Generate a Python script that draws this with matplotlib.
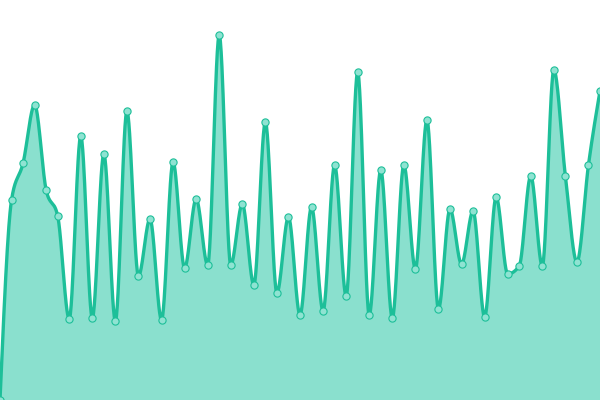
import numpy as np
import matplotlib
matplotlib.use("Agg")
import matplotlib.pyplot as plt

# pixel y positions (value = 400 - y)
y_px = [400, 200, 163, 105, 190, 216, 319, 136, 318, 154, 321, 111, 276, 219, 320, 162, 268, 199,
        265, 35, 265, 204, 285, 122, 293, 217, 315, 207, 311, 165, 296, 72, 315, 170, 318,
        165, 269, 120, 309, 209, 264, 211, 317, 197, 274, 266, 176, 266, 70, 176, 262, 165, 91]
values = [400 - v for v in y_px]
index = list(range(len(values)))

LINE = "#1dbf99"
FILL = "#8ae0ce"
MFACE = "#8fe3d2"


def monotone_x(x, y, n=30):
    x = np.asarray(x, float); y = np.asarray(y, float)
    h = np.diff(x); s = np.diff(y) / h
    t = np.zeros_like(y)
    for i in range(1, len(y) - 1):
        s0, s1 = s[i - 1], s[i]
        p = (s0 * h[i] + s1 * h[i - 1]) / (h[i - 1] + h[i])
        t[i] = (np.sign(s0) + np.sign(s1)) * min(abs(s0), abs(s1), 0.5 * abs(p))
    t[0] = (3 * s[0] - t[1]) / 2
    t[-1] = (3 * s[-1] - t[-2]) / 2
    xs, ys = [], []
    for i in range(len(y) - 1):
        u = np.linspace(0, 1, n, endpoint=False)
        x0, x1 = x[i], x[i + 1]; y0, y1 = y[i], y[i + 1]; dx = x1 - x0
        P0 = np.array([x0, y0]); P1 = np.array([x0 + dx / 3, y0 + dx * t[i] / 3])
        P2 = np.array([x1 - dx / 3, y1 - dx * t[i + 1] / 3]); P3 = np.array([x1, y1])
        b = ((1 - u) ** 3)[:, None] * P0 + (3 * (1 - u) ** 2 * u)[:, None] * P1 + \
            (3 * (1 - u) * u ** 2)[:, None] * P2 + (u ** 3)[:, None] * P3
        xs.extend(b[:, 0]); ys.extend(b[:, 1])
    xs.append(x[-1]); ys.append(y[-1])
    return np.array(xs), np.array(ys)


fig = plt.figure(figsize=(6, 4), dpi=100)
ax = fig.add_axes([0, 0, 1, 1])
sx, sy = monotone_x(index, values)
ax.fill_between(sx, sy, 0, color=FILL, linewidth=0)
ax.plot(sx, sy, color=LINE, linewidth=2.4, solid_capstyle="round")
ax.plot(index, values, linestyle="none", marker="o", markersize=5.2,
        markerfacecolor=MFACE, markeredgecolor=LINE, markeredgewidth=0.8, clip_on=True)
ax.set_xlim(0, len(values) - 1)
ax.set_ylim(0, 400)
ax.axis("off")
fig.savefig("out.png", dpi=100)
